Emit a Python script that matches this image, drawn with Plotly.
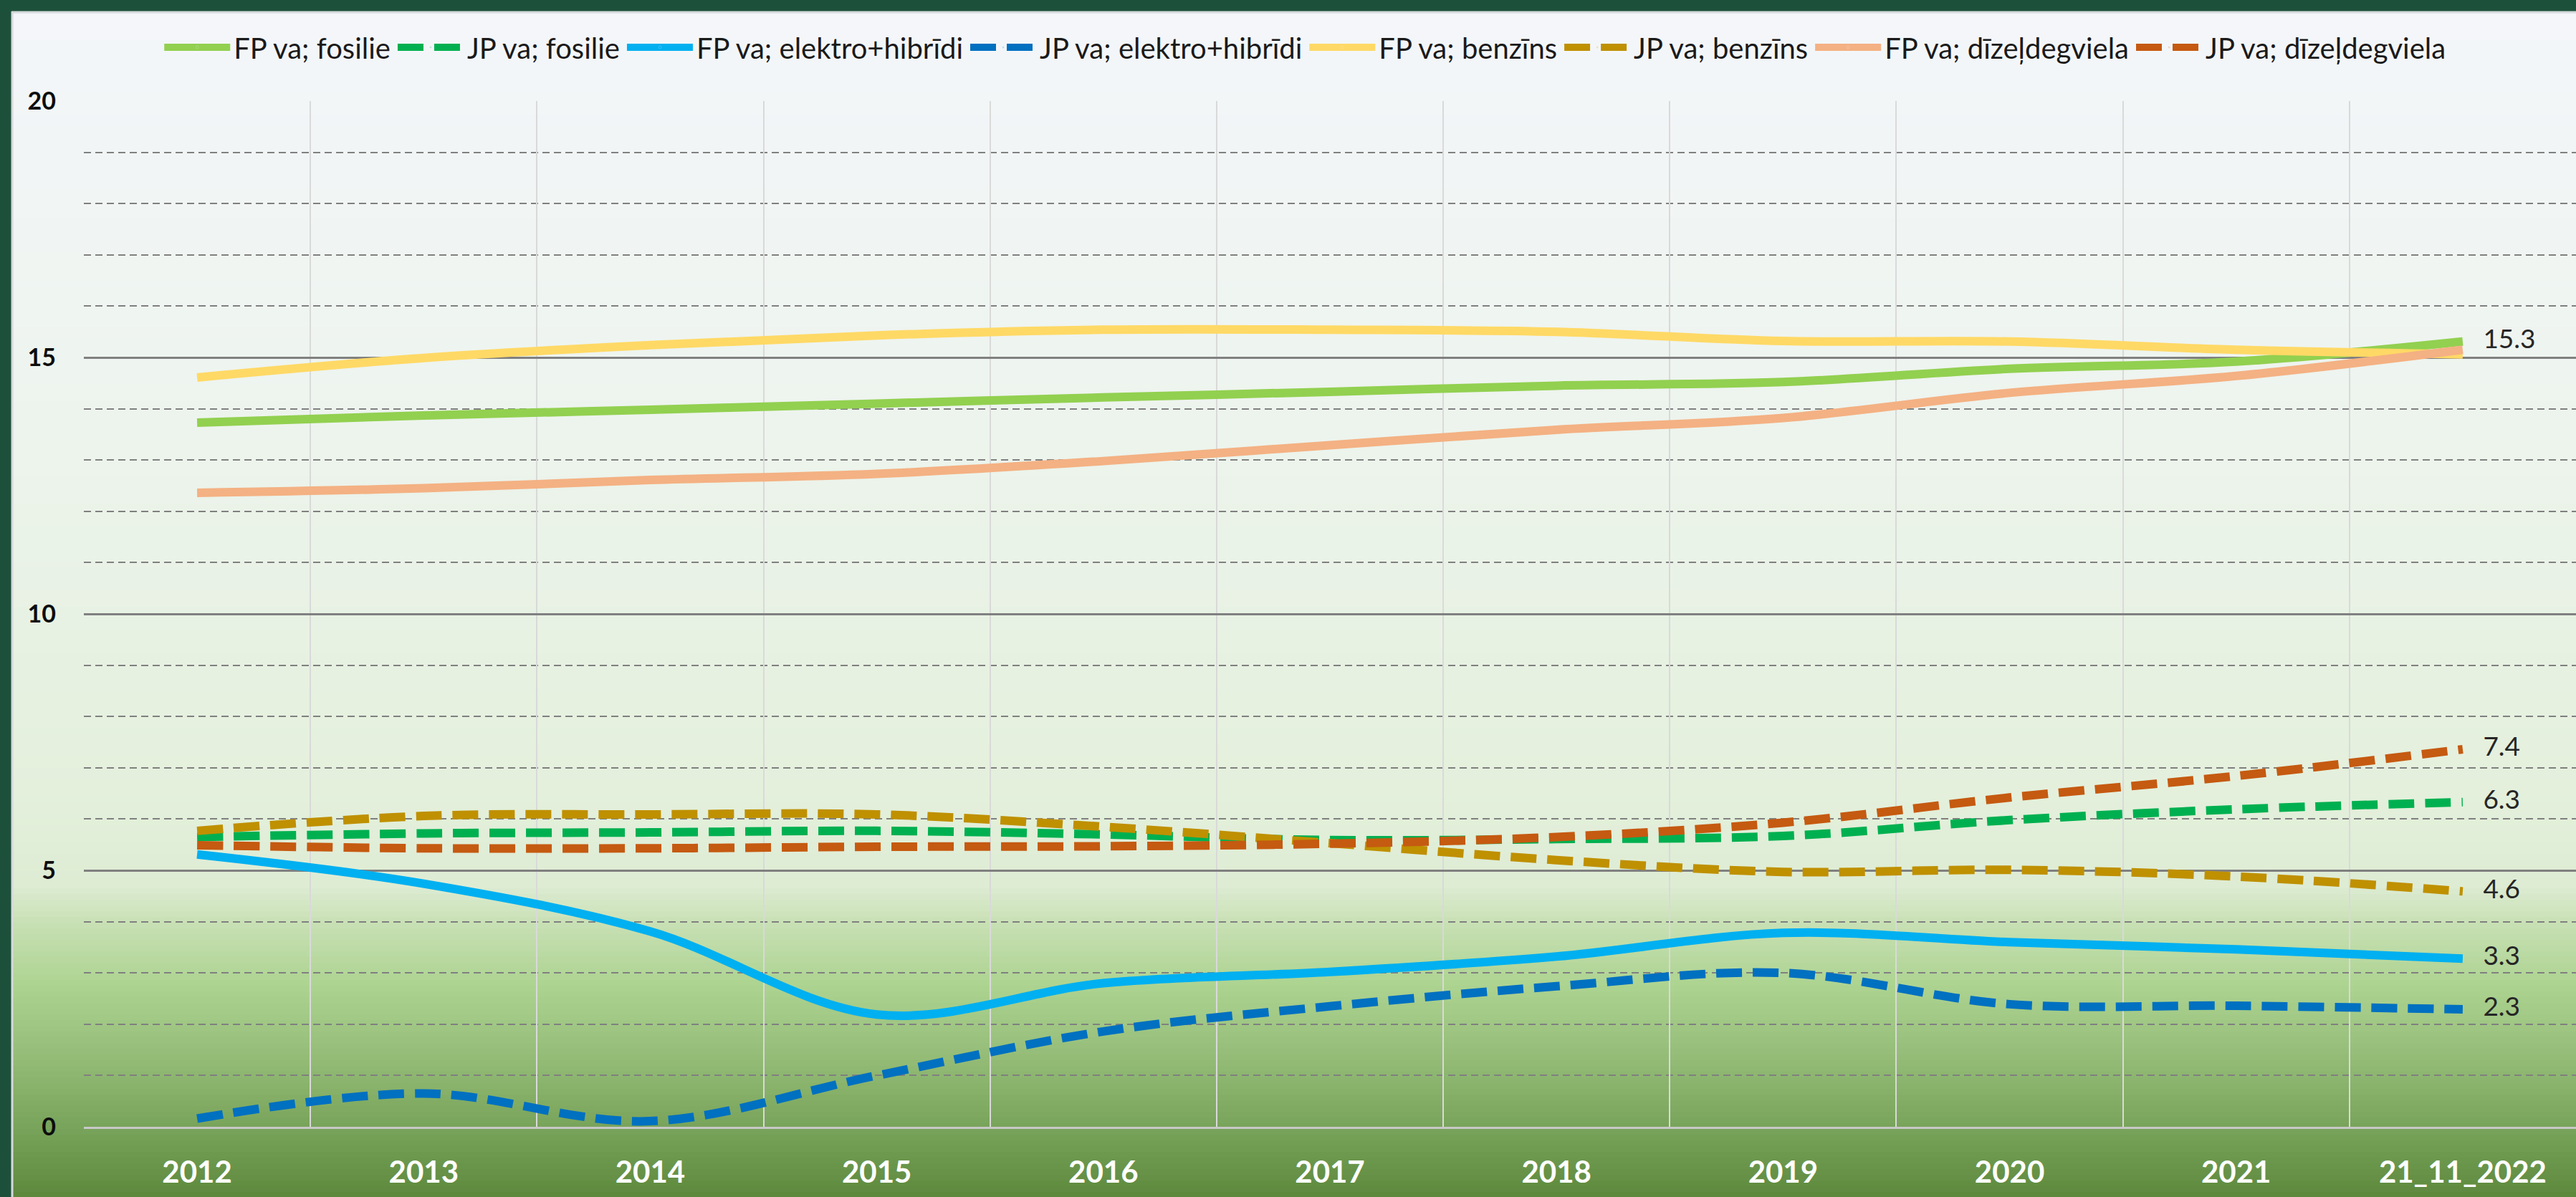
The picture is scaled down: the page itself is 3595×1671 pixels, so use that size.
import plotly.graph_objects as go

categories = ["2012", "2013", "2014", "2015", "2016", "2017", "2018", "2019", "2020", "2021", "21_11_2022"]

fp_fosilie = [13.73, 13.87, 13.98, 14.10, 14.22, 14.33, 14.45, 14.52, 14.78, 14.92, 15.31]
jp_fosilie = [5.65, 5.72, 5.74, 5.77, 5.70, 5.59, 5.61, 5.67, 5.98, 6.19, 6.33]
fp_elektro = [5.31, 4.74, 3.81, 2.19, 2.80, 3.02, 3.32, 3.78, 3.60, 3.46, 3.28]
jp_elektro = [0.16, 0.65, 0.11, 1.00, 1.86, 2.35, 2.74, 3.00, 2.39, 2.36, 2.29]
fp_benzins = [14.61, 14.99, 15.24, 15.43, 15.54, 15.54, 15.50, 15.32, 15.31, 15.15, 15.06]
jp_benzins = [5.77, 6.06, 6.09, 6.09, 5.85, 5.53, 5.20, 4.97, 5.01, 4.88, 4.59]
fp_dizel = [12.36, 12.45, 12.61, 12.73, 12.98, 13.29, 13.59, 13.82, 14.31, 14.64, 15.15]
jp_dizel = [5.49, 5.43, 5.43, 5.46, 5.47, 5.52, 5.65, 5.93, 6.42, 6.84, 7.36]

series = [
    ("FP va; fosilie", fp_fosilie, "#92D050", "solid", True),
    ("JP va; fosilie", jp_fosilie, "#00B050", "dash", True),
    ("FP va; elektro+hibrīdi", fp_elektro, "#00B0F0", "solid", True),
    ("JP va; elektro+hibrīdi", jp_elektro, "#0070C0", "dash", True),
    ("FP va; benzīns", fp_benzins, "#FFD966", "solid", False),
    ("JP va; benzīns", jp_benzins, "#BF9000", "dash", True),
    ("FP va; dīzeļdegviela", fp_dizel, "#F4B183", "solid", False),
    ("JP va; dīzeļdegviela", jp_dizel, "#C55A11", "dash", True),
]

W, H = 3595, 1671
ML, MR, MT, MB = 117, 0, 141, 98
FONT = "Lato, 'Open Sans', sans-serif"

fig = go.Figure()
for name, vals, color, dash, label in series:
    n = len(vals)
    texts = [""] * (n - 1) + [f"{vals[-1]:.1f}" if label else ""]
    sizes = [0] * (n - 1) + [44]
    fig.add_trace(go.Scatter(
        x=categories, y=vals, name=name,
        mode="lines+markers+text",
        text=texts, textposition="middle right",
        textfont=dict(family=FONT, size=37, color="#262626"),
        marker=dict(size=sizes, opacity=0, color=color),
        line=dict(color=color, width=12, shape="spline", smoothing=1.0,
                  dash="36px,15px" if dash == "dash" else "solid"),
        cliponaxis=False,
        hoverinfo="skip",
    ))

# background gradient (decoration) built from bands in paper coordinates
plot_h = H - MT - MB
plot_w = W - ML - MR
def py_to_paper(py):
    return (H - MB - py) / plot_h
def px_to_paper(px):
    return (px - ML) / plot_w

stops = [
    (16, (244, 246, 250)),
    (600, (237, 244, 237)),
    (1100, (228, 240, 220)),
    (1235, (222, 236, 212)),
    (1290, (200, 224, 180)),
    (1370, (174, 212, 147)),
    (1450, (155, 194, 127)),
    (1530, (133, 174, 103)),
    (1610, (110, 154, 80)),
    (1671, (93, 136, 60)),
]
def color_at(py):
    for (a, ca), (b, cb) in zip(stops[:-1], stops[1:]):
        if a <= py <= b:
            t = (py - a) / (b - a)
            return tuple(round(ca[i] + (cb[i] - ca[i]) * t) for i in range(3))
    return stops[-1][1]

shapes = []
step = 8
py = 16
while py < H:
    nxt = min(py + step, H)
    c = color_at((py + nxt) / 2)
    shapes.append(dict(type="rect", xref="paper", yref="paper", layer="below",
                       x0=px_to_paper(16), x1=px_to_paper(W + 5),
                       y0=py_to_paper(nxt + 0.5), y1=py_to_paper(py),
                       line=dict(width=0), fillcolor=f"rgb{c}"))
    py = nxt
# thin light edge around chart area
shapes.append(dict(type="line", xref="paper", yref="paper", layer="below",
                   x0=px_to_paper(16), x1=px_to_paper(W + 5),
                   y0=py_to_paper(17), y1=py_to_paper(17),
                   line=dict(color="#D6D9DC", width=3)))
shapes.append(dict(type="line", xref="paper", yref="paper", layer="below",
                   x0=px_to_paper(17), x1=px_to_paper(17),
                   y0=py_to_paper(16), y1=py_to_paper(H + 5),
                   line=dict(color="#D6D9DC", width=3)))

fig.update_layout(
    width=W, height=H,
    margin=dict(l=ML, r=MR, t=MT, b=MB, pad=0),
    paper_bgcolor="#1D503A",
    plot_bgcolor="rgba(0,0,0,0)",
    shapes=shapes,
    showlegend=True,
    legend=dict(orientation="h", x=0.49, xanchor="center", y=py_to_paper(66), yanchor="middle",
                font=dict(family=FONT, size=40, color="#1a1a1a"),
                bgcolor="rgba(0,0,0,0)", itemwidth=92, tracegroupgap=0),
    xaxis=dict(
        type="category", range=[-0.5, 10.5],
        showgrid=True, gridcolor="#D9D9D9", gridwidth=2, tickson="boundaries",
        showline=True, linecolor="#C8C8C8", linewidth=3,
        ticks="", ticklabelstandoff=25,
        tickfont=dict(family=FONT, size=42, color="white", weight="bold"),
        zeroline=False, fixedrange=True,
    ),
    yaxis=dict(
        range=[0, 20], tickvals=[0, 5, 10, 15, 20],
        showgrid=True, gridcolor="#808080", gridwidth=3,
        minor=dict(dtick=1, showgrid=True, gridcolor="#808080", gridwidth=2, griddash="10px,6px"),
        showline=False, zeroline=False,
        ticks="", ticklabelstandoff=38,
        tickfont=dict(family=FONT, size=34, color="#0d0d0d", weight="bold"),
        fixedrange=True,
    ),
)

fig.write_html("out.html", config={"displayModeBar": False},
               post_script="document.body.style.margin='0';document.body.style.overflow='hidden';")
